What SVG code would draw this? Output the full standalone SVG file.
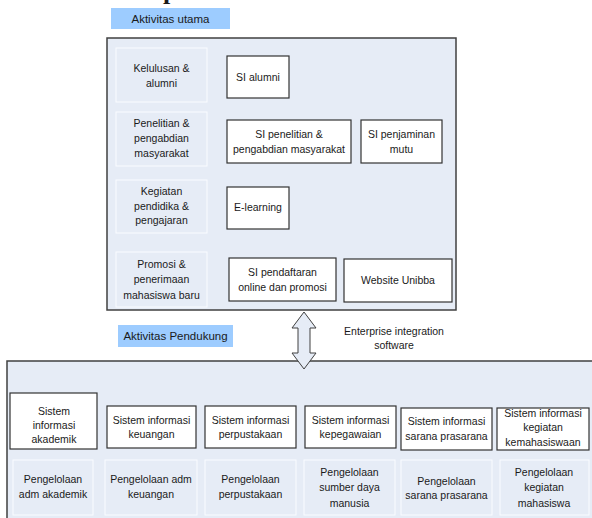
<svg xmlns="http://www.w3.org/2000/svg" width="592" height="518" viewBox="0 0 592 518">
<style>
text{font-family:"Liberation Sans",Arial,sans-serif;font-size:10.5px;fill:#1a1a1a;text-anchor:middle}
.lbl{font-size:11.5px}
.frame{fill:#E6ECF6;stroke:#404040;stroke-width:1.5}
.tag{fill:#9DCCFF;stroke:none}
.act{fill:none;stroke:#FAFCFF;stroke-width:1}
.si{fill:#FFFFFF;stroke:#333333;stroke-width:1.2}
.arrow{fill:#E6ECF6;stroke:#404040;stroke-width:1}
</style>
<rect width="592" height="518" fill="#FFFFFF"/>
<text x="163" y="-1.5" style="font-family:'Liberation Serif',serif;font-weight:bold;font-size:26px;text-anchor:start">p</text>

<g id="main-frame">
<rect class="frame" x="107" y="38" width="349" height="272"/>
</g>
<g id="label-utama">
<rect class="tag" x="111" y="8" width="119" height="21"/>
<text class="lbl" x="170.5" y="22.5">Aktivitas utama</text>
</g>

<g id="act-kelulusan"><rect class="act" x="116" y="48" width="91" height="54"/>
<text x="161.5" y="72">Kelulusan &amp;</text><text x="161.5" y="86.5">alumni</text></g>
<g id="act-penelitian"><rect class="act" x="116" y="112" width="91" height="54"/>
<text x="161.5" y="127">Penelitian &amp;</text><text x="161.5" y="142">pengabdian</text><text x="161.5" y="157">masyarakat</text></g>
<g id="act-kegiatan"><rect class="act" x="116" y="180" width="91" height="53"/>
<text x="161.5" y="195">Kegiatan</text><text x="161.5" y="209.5">pendidika &amp;</text><text x="161.5" y="224">pengajaran</text></g>
<g id="act-promosi"><rect class="act" x="116" y="252" width="91" height="55"/>
<text x="161.5" y="268">Promosi &amp;</text><text x="161.5" y="283">penerimaan</text><text x="161.5" y="299">mahasiswa baru</text></g>

<g id="si-alumni"><rect class="si" x="227" y="56" width="62" height="42"/>
<text x="258" y="81">SI alumni</text></g>
<g id="si-penelitian"><rect class="si" x="227" y="120" width="124" height="43"/>
<text x="289" y="138">SI penelitian &amp;</text><text x="289" y="152.5">pengabdian masyarakat</text></g>
<g id="si-penjaminan"><rect class="si" x="361" y="120" width="81" height="43"/>
<text x="401.5" y="138">SI penjaminan</text><text x="401.5" y="152.5">mutu</text></g>
<g id="si-elearning"><rect class="si" x="227" y="187" width="62" height="42"/>
<text x="258" y="211">E-learning</text></g>
<g id="si-pendaftaran"><rect class="si" x="229" y="258" width="107" height="43"/>
<text x="282.5" y="275.5">SI pendaftaran</text><text x="282.5" y="290.5">online dan promosi</text></g>
<g id="si-website"><rect class="si" x="344" y="259" width="108" height="43"/>
<text x="398" y="284">Website Unibba</text></g>

<g id="label-pendukung">
<rect class="tag" x="118" y="325" width="115" height="22"/>
<text class="lbl" x="175.5" y="340">Aktivitas Pendukung</text>
</g>

<g id="support-frame">
<rect class="frame" x="7" y="361" width="600" height="200"/>
</g>

<g id="connectors">
<polygon class="arrow" points="304,312 316,328 310,328 310,353 316,353 304,369 292,353 298,353 298,328 292,328"/>
</g>
<g id="enterprise-label">
<text x="394" y="335">Enterprise integration</text><text x="394" y="348.5">software</text>
</g>

<g id="si-akademik"><rect class="si" x="10" y="393" width="87" height="56"/>
<text x="54" y="415">Sistem</text><text x="54" y="429">informasi</text><text x="54" y="443">akademik</text></g>
<g id="si-keuangan"><rect class="si" x="107" y="406" width="89" height="42"/>
<text x="151.5" y="424">Sistem informasi</text><text x="151.5" y="438">keuangan</text></g>
<g id="si-perpustakaan"><rect class="si" x="205" y="406" width="91" height="42"/>
<text x="250.5" y="424">Sistem informasi</text><text x="250.5" y="438">perpustakaan</text></g>
<g id="si-kepegawaian"><rect class="si" x="305" y="406" width="91" height="42"/>
<text x="350.5" y="424">Sistem informasi</text><text x="350.5" y="438">kepegawaian</text></g>
<g id="si-sarana"><rect class="si" x="401" y="408" width="91" height="42"/>
<text x="446.5" y="425">Sistem informasi</text><text x="446.5" y="440">sarana prasarana</text></g>
<g id="si-kegiatan"><rect class="si" x="497" y="408" width="92" height="42"/>
<text x="543" y="417">Sistem informasi</text><text x="543" y="431">kegiatan</text><text x="543" y="445.5">kemahasiswaan</text></g>

<g id="p-akademik"><rect class="act" x="13" y="460" width="80" height="55"/>
<text x="53" y="483">Pengelolaan</text><text x="53" y="498">adm akademik</text></g>
<g id="p-keuangan"><rect class="act" x="105" y="460" width="92" height="55"/>
<text x="151" y="483">Pengelolaan adm</text><text x="151" y="498">keuangan</text></g>
<g id="p-perpustakaan"><rect class="act" x="205" y="460" width="91" height="55"/>
<text x="250.5" y="483">Pengelolaan</text><text x="250.5" y="498">perpustakaan</text></g>
<g id="p-sdm"><rect class="act" x="304" y="460" width="91" height="55"/>
<text x="349.5" y="476">Pengelolaan</text><text x="349.5" y="491">sumber daya</text><text x="349.5" y="507">manusia</text></g>
<g id="p-sarana"><rect class="act" x="401" y="460" width="91" height="55"/>
<text x="446.5" y="485">Pengelolaan</text><text x="446.5" y="499">sarana prasarana</text></g>
<g id="p-kegiatan"><rect class="act" x="500" y="460" width="89" height="55"/>
<text x="544" y="476">Pengelolaan</text><text x="544" y="491">kegiatan</text><text x="544" y="507">mahasiswa</text></g>
</svg>
